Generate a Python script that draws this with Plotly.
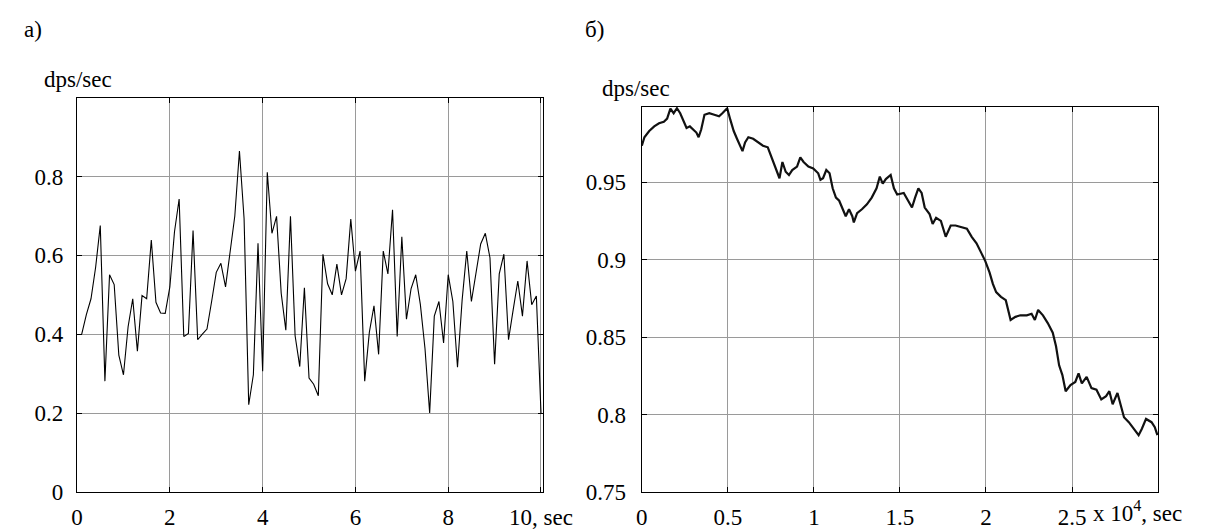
import plotly.graph_objects as go

# ---------- panel а) ----------
time_a = [round(0.1 * k, 1) for k in range(1, 101)]
rate_a = [
    0.40, 0.45, 0.49, 0.57, 0.676, 0.281, 0.551, 0.526, 0.347, 0.297,
    0.419, 0.49, 0.357, 0.498, 0.49, 0.639, 0.481, 0.454, 0.453, 0.52,
    0.66, 0.743, 0.394, 0.402, 0.663, 0.386, 0.40, 0.413, 0.483, 0.557,
    0.58, 0.52, 0.61, 0.70, 0.865, 0.693, 0.221, 0.297, 0.631, 0.306,
    0.811, 0.656, 0.699, 0.504, 0.41, 0.699, 0.396, 0.318, 0.518, 0.289,
    0.273, 0.244, 0.603, 0.528, 0.50, 0.578, 0.50, 0.541, 0.692, 0.56,
    0.611, 0.281, 0.405, 0.472, 0.349, 0.611, 0.553, 0.716, 0.394, 0.647,
    0.438, 0.516, 0.551, 0.475, 0.363, 0.20, 0.446, 0.483, 0.378, 0.551,
    0.483, 0.316, 0.487, 0.611, 0.483, 0.553, 0.629, 0.656, 0.594, 0.324,
    0.553, 0.603, 0.386, 0.462, 0.535, 0.446, 0.586, 0.475, 0.497, 0.20,
]
xticks_a = [0, 2, 4, 6, 8, 10]
xticktext_a = ["0", "2", "4", "6", "8", "10, sec"]
yticks_a = [0, 0.2, 0.4, 0.6, 0.8]
yticktext_a = ["0", "0.2", "0.4", "0.6", "0.8"]

# ---------- panel б) (time in units of 10^4 sec) ----------
time_b = [
    0.000, 0.015, 0.043, 0.072, 0.100, 0.128, 0.147, 0.166, 0.185, 0.204,
    0.223, 0.242, 0.260, 0.279, 0.298, 0.317, 0.330, 0.345, 0.364, 0.392,
    0.421, 0.449, 0.468, 0.496, 0.515, 0.534, 0.553, 0.572, 0.585, 0.600,
    0.619, 0.647, 0.675, 0.704, 0.732, 0.751, 0.770, 0.789, 0.800, 0.817,
    0.836, 0.855, 0.874, 0.902, 0.921, 0.940, 0.968, 0.996, 1.025, 1.038,
    1.053, 1.072, 1.091, 1.109, 1.128, 1.147, 1.166, 1.185, 1.204, 1.223,
    1.232, 1.251, 1.279, 1.308, 1.336, 1.364, 1.383, 1.400, 1.418, 1.446,
    1.465, 1.484, 1.522, 1.550, 1.570, 1.588, 1.607, 1.626, 1.644, 1.672,
    1.690, 1.710, 1.738, 1.766, 1.795, 1.823, 1.861, 1.889, 1.917, 1.945,
    1.974, 1.996, 2.021, 2.040, 2.059, 2.087, 2.115, 2.143, 2.171, 2.200,
    2.237, 2.265, 2.284, 2.303, 2.331, 2.359, 2.388, 2.407, 2.425, 2.444,
    2.463, 2.491, 2.519, 2.538, 2.557, 2.585, 2.613, 2.642, 2.670, 2.698,
    2.717, 2.736, 2.764, 2.783, 2.802, 2.830, 2.858, 2.887, 2.906, 2.930,
    2.962, 2.981, 2.996,
]
rate_b = [
    0.9735, 0.979, 0.983, 0.986, 0.988, 0.989, 0.991, 0.9975, 0.9945, 0.9977,
    0.9945, 0.989, 0.985, 0.986, 0.984, 0.982, 0.979, 0.984, 0.9935, 0.9945,
    0.9935, 0.9925, 0.9945, 0.9977, 0.990, 0.983, 0.978, 0.9725, 0.970, 0.9756,
    0.979, 0.978, 0.9756, 0.9735, 0.9725, 0.967, 0.962, 0.9567, 0.9525, 0.963,
    0.9567, 0.9546, 0.9578, 0.960, 0.966, 0.963, 0.960, 0.9588, 0.9557, 0.9515,
    0.9525, 0.9578, 0.9557, 0.946, 0.940, 0.938, 0.9325, 0.928, 0.9325, 0.928,
    0.924, 0.930, 0.9325, 0.9357, 0.940, 0.946, 0.9536, 0.949, 0.952, 0.9546,
    0.946, 0.942, 0.943, 0.938, 0.9336, 0.940, 0.946, 0.943, 0.9336, 0.9294,
    0.923, 0.927, 0.925, 0.9147, 0.922, 0.922, 0.921, 0.920, 0.9147, 0.9105,
    0.904, 0.899, 0.8916, 0.8843, 0.879, 0.8759, 0.8738, 0.861, 0.863, 0.864,
    0.864, 0.865, 0.861, 0.8675, 0.864, 0.859, 0.8528, 0.844, 0.8317, 0.8254,
    0.815, 0.819, 0.821, 0.8265, 0.820, 0.8243, 0.817, 0.816, 0.8097, 0.8118,
    0.815, 0.8066, 0.8139, 0.8066, 0.7982, 0.795, 0.7908, 0.7866, 0.7908, 0.7971,
    0.795, 0.7918, 0.7866,
]
xticks_b = [0, 0.5, 1, 1.5, 2, 2.5]
xticktext_b = ["0", "0.5", "1", "1.5", "2", "2.5"]
yticks_b = [0.75, 0.8, 0.85, 0.9, 0.95]
yticktext_b = ["0.75", "0.8", "0.85", "0.9", "0.95"]

W, H = 1215, 532
FONT = "Liberation Serif"
FS = 23


def px_x(p):
    return p / W


def px_y(p):
    return 1 - p / H


fig = go.Figure()
fig.add_trace(go.Scatter(x=time_a, y=rate_a, mode="lines",
                         line=dict(color="black", width=1.1),
                         xaxis="x", yaxis="y", showlegend=False))
fig.add_trace(go.Scatter(x=time_b, y=rate_b, mode="lines",
                         line=dict(color="#111111", width=2.2),
                         xaxis="x2", yaxis="y2", showlegend=False))

axis_common = dict(
    showline=True, linecolor="black", linewidth=1.3, mirror="ticks",
    ticks="inside", ticklen=5, tickcolor="black", tickwidth=1,
    showgrid=True, gridcolor="#9a9a9a", gridwidth=1,
    zeroline=False,
    tickfont=dict(family=FONT, size=FS, color="black"),
)

fig.update_layout(
    width=W, height=H,
    margin=dict(l=0, r=0, t=0, b=0),
    paper_bgcolor="white", plot_bgcolor="white",
    font=dict(family=FONT, size=FS, color="black"),
    xaxis=dict(domain=[px_x(65), px_x(545)], range=[0, 10.04],
               tickmode="array", tickvals=xticks_a, ticktext=xticktext_a,
               anchor="y", ticklabelstandoff=4, **axis_common),
    yaxis=dict(domain=[px_y(496), px_y(92)], range=[0, 1.0],
               tickmode="array", tickvals=yticks_a, ticktext=yticktext_a,
               anchor="x", ticklabelstandoff=8, **axis_common),
    xaxis2=dict(domain=[px_x(647), px_x(1179)], range=[0, 3.0],
                tickmode="array", tickvals=xticks_b, ticktext=xticktext_b,
                anchor="y2", ticklabelstandoff=4, **axis_common),
    yaxis2=dict(domain=[px_y(496), px_y(101.5)], range=[0.75, 0.9985],
                tickmode="array", tickvals=yticks_b, ticktext=yticktext_b,
                anchor="x2", ticklabelstandoff=10, **axis_common),
)

ann_font = dict(family=FONT, size=FS, color="black")
annotations = [
    dict(text="а)", x=px_x(8), y=px_y(22)),
    dict(text="б)", x=px_x(586), y=px_y(22)),
    dict(text="dps/sec", x=px_x(29), y=px_y(73)),
    dict(text="dps/sec", x=px_x(604), y=px_y(83)),
    dict(text="x 10<sup>4</sup>, sec", x=px_x(1110), y=px_y(516)),
]
for a in annotations:
    a.update(xref="paper", yref="paper", showarrow=False, font=ann_font,
             xanchor="left", yanchor="middle")
fig.update_layout(annotations=annotations)

fig.write_html("out.html")
